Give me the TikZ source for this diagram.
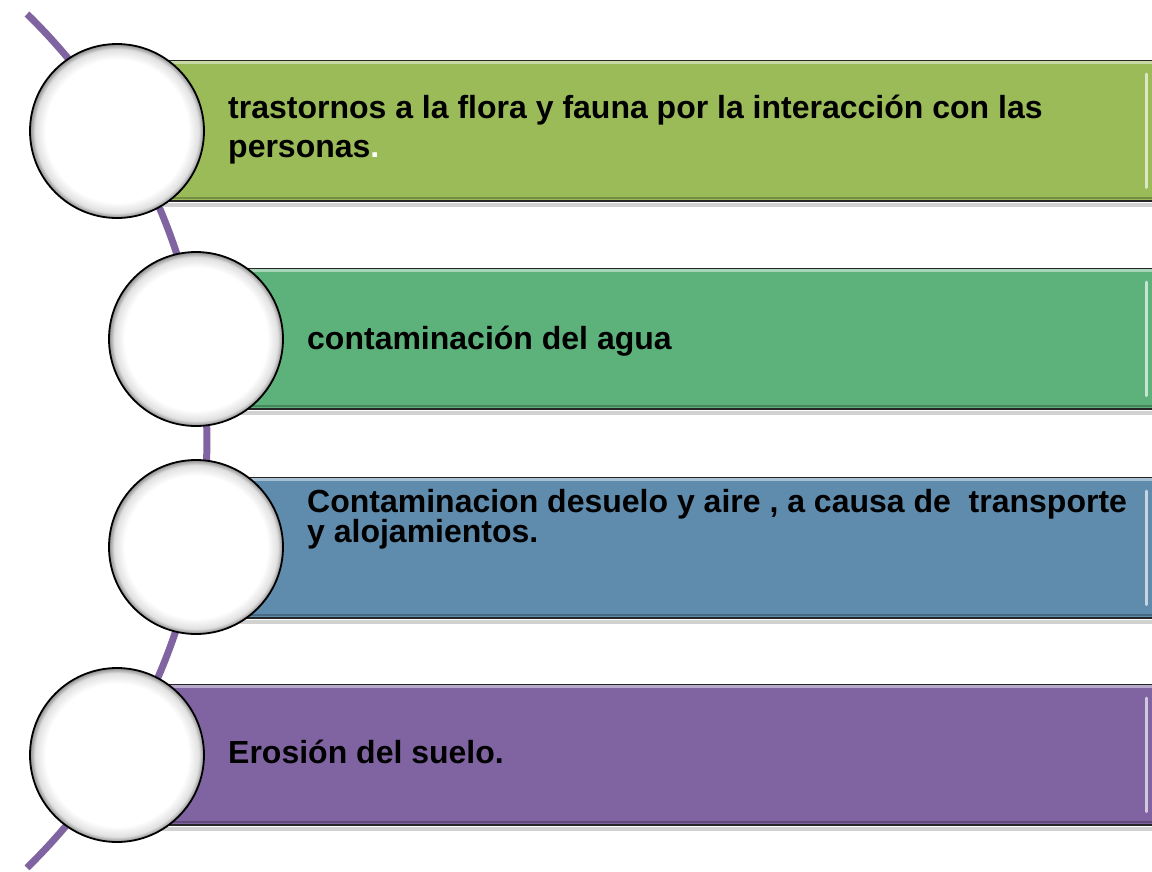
\documentclass[tikz,border=0pt]{standalone}
\usepackage{fontspec}
\setmainfont{Liberation Sans}
\definecolor{cgreen}{HTML}{9BBB59}
\definecolor{cteal}{HTML}{5DB27C}
\definecolor{cblue}{HTML}{5F8BAD}
\definecolor{cpurple}{HTML}{8064A2}
\pgfdeclareradialshading{orbshade}{\pgfpoint{0bp}{0bp}}{color(0bp)=(white); color(20.5bp)=(white); color(23.5bp)=(black!12); color(25bp)=(black!45); color(50bp)=(black!45)}
\tikzset{
  bar/.style={rectangle, anchor=north west, minimum height=140pt, inner sep=0pt,
    draw=black!85, line width=1.5pt},
  orb/.style={circle, minimum size=174pt, inner sep=0pt, shading=orbshade, draw=black, line width=1.8pt},
  lbl/.style={anchor=base west, inner sep=0pt, align=left},
  hl/.style={line width=3pt, line cap=round},
  spine/.style={draw=cpurple, line width=7pt}
}
\begin{document}
\begin{tikzpicture}[x=1pt,y=-1pt]
\useasboundingbox (0,0) rectangle (1152,871);
\clip (0,0) rectangle (1152,871);
% spine
\coordinate (sp0) at (27,14);
\draw[spine] (sp0) arc[start angle=-45.7, end angle=45.7, radius=596.5];
% shadows
\foreach \x/\y in {120/60,200/268,200/477,120/684}{
  \fill[black!18] (\x,\y+143) rectangle (1152,\y+147);
}
% bars
\node[bar, fill=cgreen, minimum width=1040pt] (b1) at (115,60) {};
\node[bar, fill=cteal, minimum width=960pt] (b2) at (195,268) {};
\node[bar, fill=cblue, minimum width=960pt] (b3) at (195,477) {};
\node[bar, fill=cpurple, minimum width=1040pt] (b4) at (115,684) {};
% highlights
\foreach \b/\c in {b1/cgreen, b2/cteal, b3/cblue, b4/cpurple}{
  \draw[hl, white!45!\c] ([shift={(0pt,-2.5pt)}]\b.north west) -- ([shift={(0pt,-2.5pt)}]\b.north east);
  \draw[hl, \c!75!black, line width=2pt] ([shift={(0pt,3.5pt)}]\b.south west) -- ([shift={(0pt,3.5pt)}]\b.south east);
  \draw[hl, white!65!\c] ([shift={(-10pt,-14pt)}]\b.north east) -- ([shift={(-10pt,14pt)}]\b.south east);
}
% circles
\node[orb] (c1) at (117,131) {};
\node[orb] (c2) at (196,339) {};
\node[orb] (c3) at (196,547) {};
\node[orb] (c4) at (117,755) {};
% labels
\node[lbl, font=\fontsize{32}{39}\selectfont\bfseries] (t1) at (228,157)
  {trastornos a la flora y fauna por la interacción con las\\personas{\color{white}.}};
\node[lbl, font=\fontsize{32}{39}\selectfont\bfseries] (t2) at (307,349) {contaminación del agua};
\node[lbl, font=\fontsize{32}{30}\selectfont\bfseries] (t3) at (307,542)
  {Contaminacion desuelo y aire , a causa de\ \ transporte\\y alojamientos.};
\node[lbl, font=\fontsize{32}{39}\selectfont\bfseries] (t4) at (228,763) {Erosión del suelo.};
\end{tikzpicture}
\end{document}
